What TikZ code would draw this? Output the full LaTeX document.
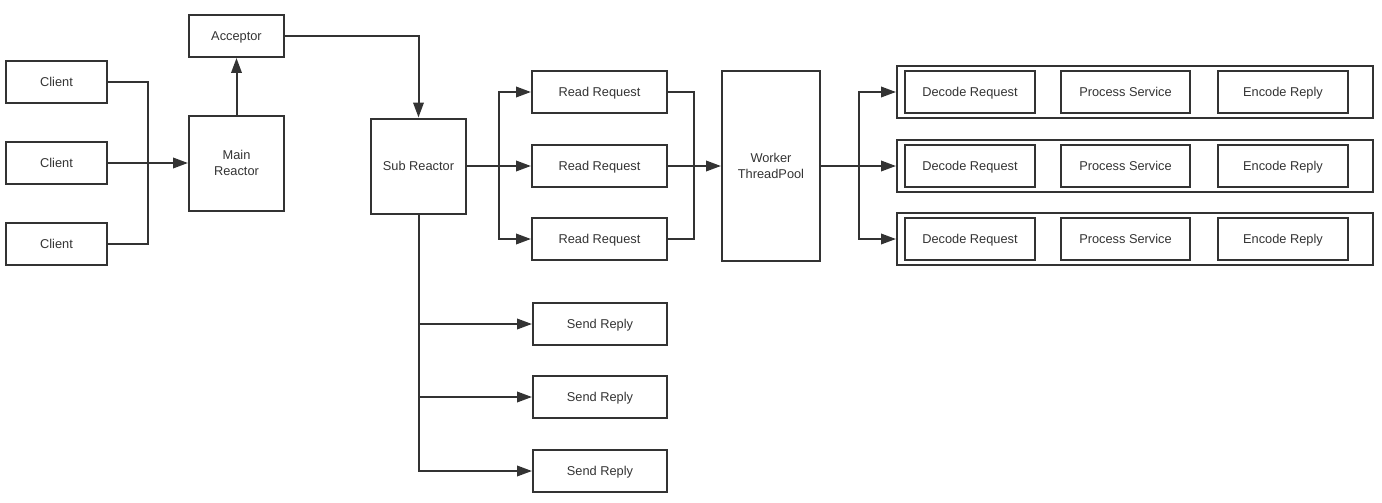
\documentclass[tikz,border=0pt]{standalone}
\usepackage{fontspec}
\setmainfont{Liberation Sans}
\usetikzlibrary{arrows.meta}
\definecolor{ink}{HTML}{333333}
\begin{document}
\begin{tikzpicture}[x=1pt,y=-1pt,
  box/.style={draw=ink,line width=2pt,text=ink,inner sep=0pt,align=center,
    font=\fontsize{12.8}{16}\selectfont},
  one/.style={text height=9.2pt,text depth=0pt},
  conn/.style={draw=ink,line width=2pt},
  arr/.style={conn,-{Triangle[length=15pt,width=10.5pt]}}]
\useasboundingbox (0,0) rectangle (1382,503);
% left
\node[box,one,minimum width=101,minimum height=42] (c1) at (56.5,82) {Client};
\node[box,one,minimum width=101,minimum height=42] (c2) at (56.5,163) {Client};
\node[box,one,minimum width=101,minimum height=42] (c3) at (56.5,244) {Client};
\node[box,one,minimum width=95,minimum height=42] (acc) at (236.5,36) {Acceptor};
\node[box,minimum width=95,minimum height=95] (main) at (236.5,163) {Main\\Reactor};
\node[box,one,minimum width=95,minimum height=95] (sub) at (418.5,166) {Sub Reactor};
% read requests
\node[box,one,minimum width=135,minimum height=42] (rr1) at (599.5,92) {Read Request};
\node[box,one,minimum width=135,minimum height=42] (rr2) at (599.5,166) {Read Request};
\node[box,one,minimum width=135,minimum height=42] (rr3) at (599.5,239) {Read Request};
\node[box,minimum width=98,minimum height=189] (wk) at (771,166) {Worker\\ThreadPool};
% send replies
\node[box,one,minimum width=134,minimum height=42] (s1) at (600,324) {Send Reply};
\node[box,one,minimum width=134,minimum height=42] (s2) at (600,397) {Send Reply};
\node[box,one,minimum width=134,minimum height=42] (s3) at (600,471) {Send Reply};
% pipelines
\foreach \i/\y in {1/92,2/166,3/239}{
  \node[box,minimum width=476,minimum height=52] (o\i) at (1135,\y) {};
  \node[box,one,minimum width=130,minimum height=42] (d\i) at (970,\y) {Decode Request};
  \node[box,one,minimum width=129,minimum height=42] (p\i) at (1125.5,\y) {Process Service};
  \node[box,one,minimum width=130,minimum height=42] (e\i) at (1283,\y) {Encode Reply};
}
% connectors
\coordinate (jc) at (148,163);
\draw[conn] (c1.east) -| (jc);
\draw[conn] (c3.east) -| (jc);
\draw[arr] (c2.east) -- (main.west);
\draw[arr] (main.north) -- (acc.south);
\draw[arr] (acc.east) -| (sub.north);
\coordinate (js) at (499,166);
\draw[conn] (sub.east) -- (js);
\draw[arr] (js) |- (rr1.west);
\draw[arr] (js) -- (rr2.west);
\draw[arr] (js) |- (rr3.west);
\coordinate (jw) at (694,166);
\draw[conn] (rr1.east) -| (jw);
\draw[conn] (rr3.east) -| (jw);
\draw[arr] (rr2.east) -- (wk.west);
\coordinate (jo) at (859,166);
\draw[conn] (wk.east) -- (jo);
\draw[arr] (jo) |- (o1.west);
\draw[arr] (jo) -- (o2.west);
\draw[arr] (jo) |- (o3.west);
\draw[arr] (sub.south) |- (s3.west);
\draw[arr] (sub.south |- s1.west) -- (s1.west);
\draw[arr] (sub.south |- s2.west) -- (s2.west);
\end{tikzpicture}
\end{document}
